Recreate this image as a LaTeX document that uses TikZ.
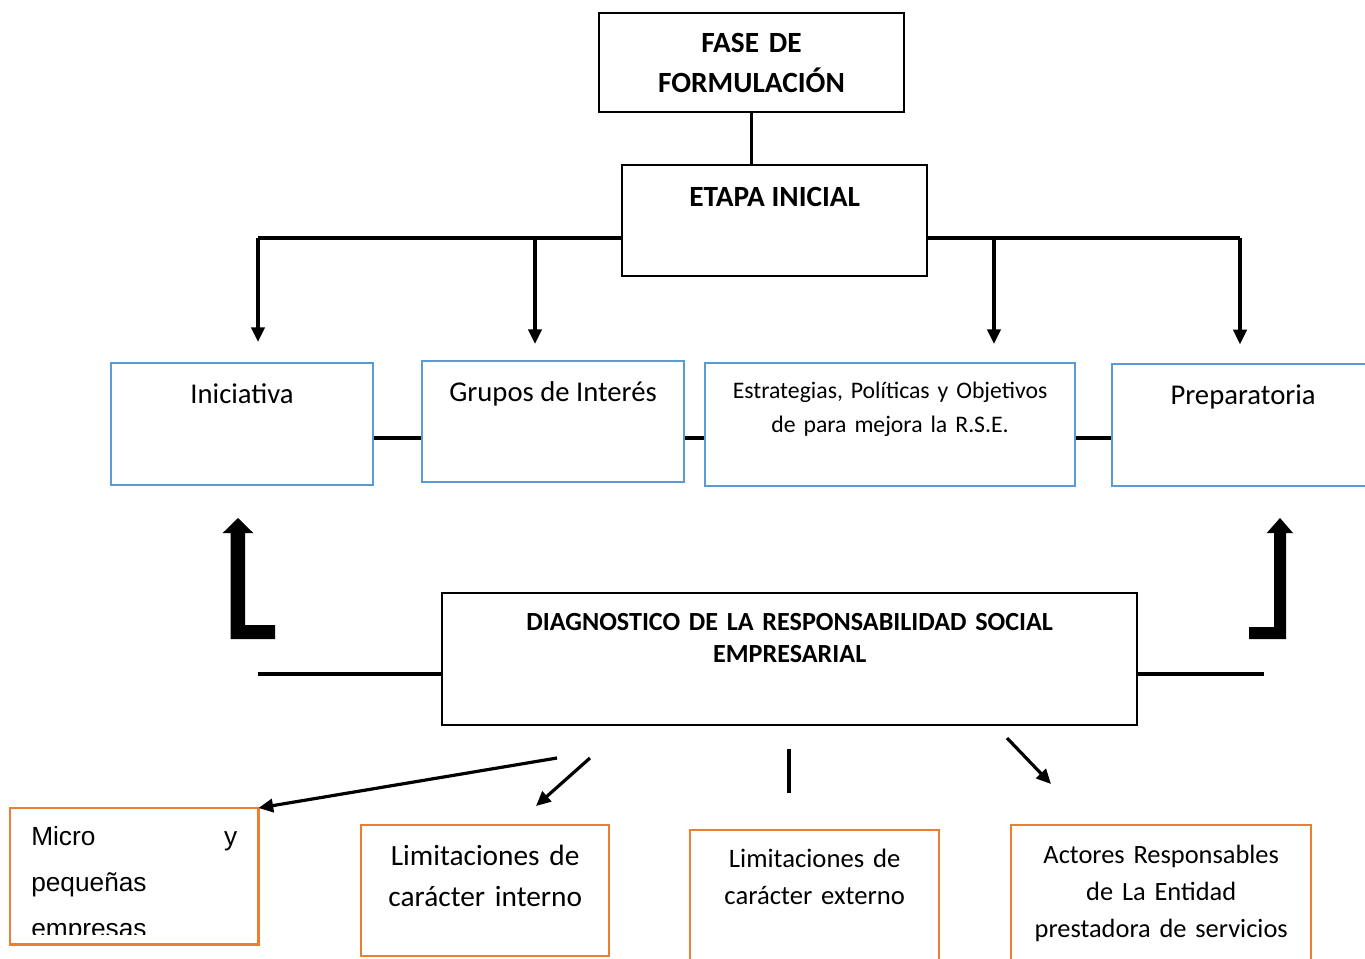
\documentclass[tikz,border=0pt]{standalone}
\usepackage{fontspec}
\setmainfont{Carlito}
\newfontfamily\arialfont{Liberation Sans}
\usetikzlibrary{positioning,arrows.meta}
\definecolor{boxblue}{RGB}{91,155,213}
\definecolor{boxorange}{RGB}{237,125,49}
\tikzset{blk/.style={draw,line width=1.8pt,inner sep=0pt},
  bbox/.style={draw=boxblue,line width=1.6pt,inner sep=0pt},
  obox/.style={draw=boxorange,line width=1.8pt,inner sep=0pt},
  con/.style={line width=2.8pt},
  arr/.style={line width=2.4pt,-{Triangle[length=11pt,width=10pt]}}}

\begin{document}
\begin{tikzpicture}[x=0.75pt,y=-0.75pt]
        \path[use as bounding box,clip] (0,0) rectangle (1365,958);

        \node[blk,minimum width=228.75pt,minimum height=74.25pt,text width=228.75pt,align=center,font=\fontsize{22}{30}\selectfont\bfseries] (fase) at (751.5,62.5) {FASE DE\\FORMULACIÓN};
        \node[blk,anchor=north west,minimum width=228.75pt,text height=31.1pt,text depth=52.1pt,font=\fontsize{22}{26}\selectfont\bfseries] (etapa) at (621,164) {ETAPA INICIAL};

        \node[bbox,anchor=north west,minimum width=196.5pt,text height=30pt,text depth=61.5pt,font=\fontsize{21.5}{26}\selectfont] (inic) at (110,362) {Iniciativa};
        \node[bbox,anchor=north west,minimum width=196.5pt,text height=30pt,text depth=60.75pt,font=\fontsize{21.5}{26}\selectfont] (grupos) at (421,360) {Grupos de Interés};
        \node[bbox,anchor=north west,text width=277.5pt,align=center,text height=26.25pt,text depth=66pt,font=\fontsize{17.8}{26}\selectfont] (estr) at (704,362) {Estrategias, Políticas y Objetivos\\de para mejora la R.S.E.};
        \node[bbox,anchor=north west,minimum width=196.5pt,text height=30pt,text depth=61.5pt,font=\fontsize{21.5}{26}\selectfont] (prep) at (1111,363) {Preparatoria};

        \node[blk,anchor=north west,text width=521.25pt,align=center,text height=28.1pt,text depth=70.9pt,font=\fontsize{19.6}{24}\selectfont\bfseries] (diag) at (441,592) {DIAGNOSTICO DE LA RESPONSABILIDAD SOCIAL\\EMPRESARIAL};

        \begin{scope}
        \clip (0,800) rectangle (300,934);
        \node[anchor=north west,inner xsep=15.75pt,inner ysep=0pt,text width=154.5pt,align=left,text height=27.75pt,text depth=74.25pt,font=\arialfont\fontsize{19.7}{34.5}\selectfont] (micro) at (10,808) {Micro\hfill y\\pequeñas\\empresas};
        \end{scope}
        \draw[boxorange,line width=1.8pt] (micro.north west) rectangle (micro.south east);
        \node[obox,anchor=north west,text width=186pt,align=center,text height=30pt,text depth=68.25pt,font=\fontsize{22}{30.75}\selectfont] (limint) at (360,824) {Limitaciones de\\carácter interno};
        \node[obox,anchor=north west,text width=186.75pt,align=center,text height=27.75pt,text depth=93pt,font=\fontsize{20}{27.75}\selectfont] (limext) at (689,829) {Limitaciones de\\carácter externo};
        \node[obox,anchor=north west,text width=225pt,align=center,text height=28.5pt,text depth=96pt,font=\fontsize{19.8}{28}\selectfont] (actores) at (1010,824) {Actores Responsables\\de La Entidad\\prestadora de servicios};

        % upper part
        \coordinate (tl) at (258,238);
        \coordinate (tg) at (535,238);
        \coordinate (te) at (994,238);
        \coordinate (tr) at (1240,238);
        \coordinate (m) at (0,438);
        \draw [con] (fase.south) -- (fase.south |- etapa.north);
        \draw [con] (etapa.west |- tl) -- (tl);
        \draw [con] (etapa.east |- tr) -- (tr);
        \draw [arr,shorten >=15pt] (tl) -- (tl |- inic.north);
        \draw [arr,shorten >=12pt] (tg) -- (tg |- grupos.north);
        \draw [arr,shorten >=13.5pt] (te) -- (te |- estr.north);
        \draw [arr,shorten >=14pt] (tr) -- (tr |- prep.north);
        \draw [con] (inic.east |- m) -- (grupos.west |- m);
        \draw [con] (grupos.east |- m) -- (estr.west |- m);
        \draw [con] (estr.east |- m) -- (prep.west |- m);

        % bent arrows
        \fill (230.7,639) -- (275,639) -- (275,625) -- (245,625) -- (245,533) -- (253.3,533) -- (238,518) -- (222.7,533) -- (230.7,533) -- cycle;
        \fill (1286,639) -- (1249,639) -- (1249,627) -- (1274,627) -- (1274,533) -- (1266.7,533) -- (1280,518) -- (1293,533) -- (1286,533) -- cycle;

        % lower part
        \coordinate (dl) at (258,674);
        \coordinate (dr) at (1264,674);
        \coordinate (a1) at (557,758);
        \coordinate (a2) at (590,758);
        \coordinate (b2) at (536,806);
        \coordinate (a3) at (789,749);
        \coordinate (b3) at (789,793);
        \coordinate (a4) at (1007,738);
        \coordinate (b4) at (1051,784);
        \draw [con] (dl) -- (diag.west |- dl);
        \draw [con] (diag.east |- dr) -- (dr);
        \draw [arr] (a1) -- (micro.north east);
        \draw [arr] (a2) -- (b2);
        \draw [con] (a3) -- (b3);
        \draw [arr] (a4) -- (b4);
    \end{tikzpicture}
\end{document}
